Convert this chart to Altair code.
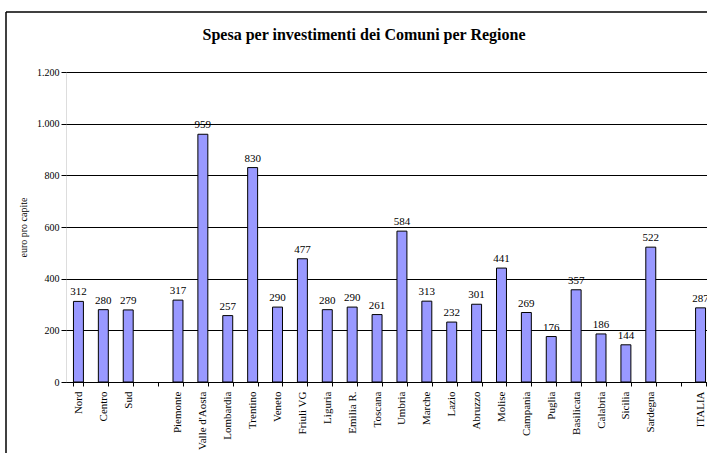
import altair as alt
import pandas as pd

categories = ["Nord", "Centro", "Sud", " ", "Piemonte", "Valle d'Aosta", "Lombardia",
              "Trentino", "Veneto", "Friuli VG", "Liguria", "Emilia R.", "Toscana",
              "Umbria", "Marche", "Lazio", "Abruzzo", "Molise", "Campania", "Puglia",
              "Basilicata", "Calabria", "Sicilia", "Sardegna", "  ", "ITALIA"]
values = [312, 280, 279, None, 317, 959, 257, 830, 290, 477, 280, 290, 261,
          584, 313, 232, 301, 441, 269, 176, 357, 186, 144, 522, None, 287]
y_ticks = [0, 200, 400, 600, 800, 1000, 1200]
title_text = "Spesa per investimenti dei Comuni per Regione"

df = pd.DataFrame({"cat": categories, "val": values}).dropna()
one = pd.DataFrame({"t": [title_text]})

FONT = "'Liberation Serif', 'DejaVu Serif', serif"

x_enc = alt.X("cat:N", sort=categories,
              scale=alt.Scale(domain=categories, range=[0, 647], paddingInner=0.6, paddingOuter=0.3),
              axis=alt.Axis(title=None, labelAngle=-90, tickBand="extent", labelFont=FONT,
                            labelFontSize=11, labelColor="black", domainColor="black",
                            tickColor="black", tickSize=4, labelPadding=5, grid=False))
y_enc = alt.Y("val:Q", scale=alt.Scale(domain=[0, 1200], nice=False),
              axis=alt.Axis(title="euro pro capite", values=y_ticks,
                            labelExpr="replace(format(datum.value, ','), ',', '.')",
                            labelFont=FONT, labelFontSize=10, labelColor="black",
                            titleFont=FONT, titleFontSize=10, titleFontWeight="normal",
                            titleColor="black", titlePadding=8,
                            domain=False, tickColor="black", tickSize=5,
                            grid=True, gridColor="black", gridWidth=1))

bars = alt.Chart(df).mark_bar(color="#9999FF", stroke="black", strokeWidth=1).encode(x=x_enc, y=y_enc)
labels = alt.Chart(df).mark_text(font=FONT, fontSize=11, baseline="bottom", dy=-4, color="black").encode(
    x=alt.X("cat:N", sort=categories), y="val:Q", text="val:Q")

frame_v = alt.Chart(one).mark_rule(color="black", strokeWidth=1.5, clip=False).encode(
    x=alt.value(-60), y=alt.value(-60), y2=alt.value(400))
frame_h = alt.Chart(one).mark_rule(color="black", strokeWidth=1.5, clip=False).encode(
    x=alt.value(-60), x2=alt.value(700), y=alt.value(-60))
title_mark = alt.Chart(one).mark_text(font=FONT, fontSize=16, fontWeight="bold", color="black",
                                      align="center", baseline="middle", clip=False).encode(
    x=alt.value(298), y=alt.value(-37), text="t:N")

chart = alt.layer(bars, labels, frame_v, frame_h, title_mark).properties(
    width=641, height=310,
    autosize=alt.AutoSizeParams(type="none"),
    padding={"left": 66, "top": 72, "right": 0, "bottom": 71},
).configure_view(stroke=None).configure(background="white")

chart.save("out.html", embed_options={"renderer": "svg", "actions": False})
